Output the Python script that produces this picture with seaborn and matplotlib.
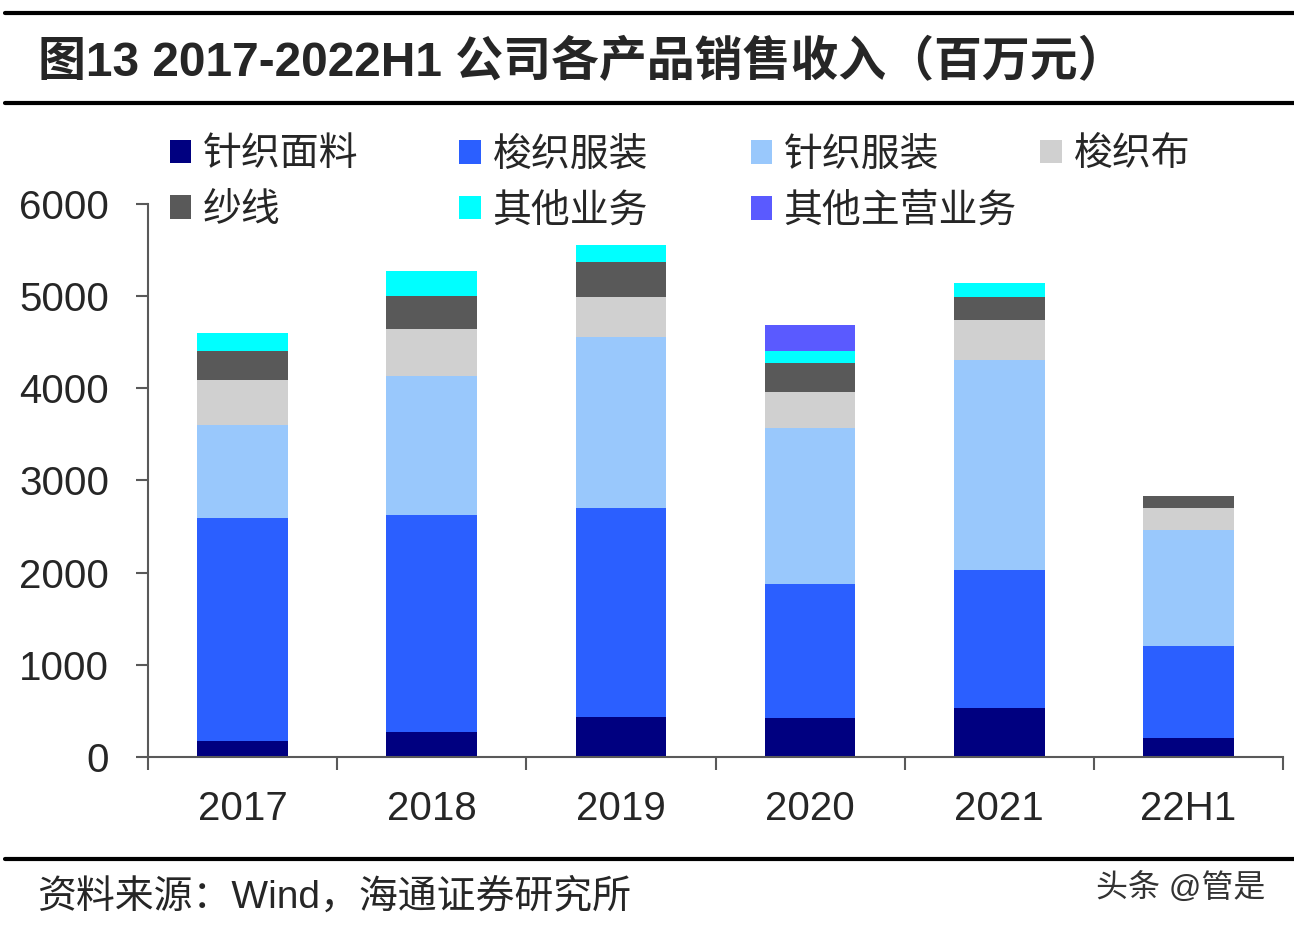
import pandas as pd
import matplotlib
matplotlib.use('Agg')
import matplotlib.pyplot as plt
import seaborn as sns
from matplotlib.patches import Patch
from matplotlib.lines import Line2D

# Data (百万元)
years = ['2017', '2018', '2019', '2020', '2021', '22H1']
series_names = ['针织面料', '梭织服装', '针织服装', '梭织布', '纱线', '其他业务', '其他主营业务']
knit_fabric = [170, 273, 431, 423, 536, 206]
woven_apparel = [2425, 2349, 2273, 1453, 1490, 996]
knit_apparel = [1005, 1513, 1850, 1693, 2281, 1262]
woven_cloth = [490, 505, 442, 394, 435, 240]
yarn = [310, 360, 375, 307, 247, 131]
other_business = [205, 273, 187, 134, 150, 0]
other_main = [0, 0, 0, 285, 0, 0]
y_ticks = [0, 1000, 2000, 3000, 4000, 5000, 6000]

colors = ['#000080', '#2B5FFF', '#99C8FC', '#D0D0D0', '#595959', '#00FFFF', '#5A5AFF']

sns.set_style('ticks')
plt.rcParams['font.family'] = ['Liberation Sans', 'Noto Sans CJK SC', 'DejaVu Sans']

df = pd.DataFrame(dict(zip(series_names, [knit_fabric, woven_apparel, knit_apparel,
                                          woven_cloth, yarn, other_business, other_main])),
                  index=years)
cum = df.cumsum(axis=1)

fig = plt.figure(figsize=(12.94, 9.34), dpi=100)
ax = fig.add_axes([0.1144, 0.1895, 0.8771, 0.5921])

# stacked bars: draw cumulative totals from the top segment down
for name, color in reversed(list(zip(series_names, colors))):
    sns.barplot(x=years, y=cum[name].values, color=color, width=0.48,
                saturation=1, linewidth=0, ax=ax)

ax.set_ylim(0, 6000)
ax.set_xlim(-0.5, len(years) - 0.5)
ax.set_yticks(y_ticks)
ax.set_yticklabels([str(t) for t in y_ticks], fontsize=29)
ax.set_xticks(range(len(years)))
ax.set_xticklabels(years, fontsize=29)
ax.set_xticks([i - 0.5 for i in range(len(years) + 1)], minor=True)
ax.tick_params(axis='x', which='major', length=0, pad=24)
ax.tick_params(axis='x', which='minor', length=9, width=1.5, color='#595959')
ax.tick_params(axis='y', length=9, width=1.5, color='#595959', pad=19)
ax.set_xlabel('')
ax.set_ylabel('')
for side in ['top', 'right']:
    ax.spines[side].set_visible(False)
for side in ['left', 'bottom']:
    ax.spines[side].set_color('#595959')
    ax.spines[side].set_linewidth(1.5)

# legend: four columns laid out in rows, like the reference
handles = [Patch(facecolor=c, edgecolor='none') for c in colors]
col_items = [[0, 4], [1, 5], [2, 6], [3]]
col_x = [0.131, 0.355, 0.580, 0.804]
for items, x in zip(col_items, col_x):
    fig.legend([handles[i] for i in items], [series_names[i] for i in items],
               loc='upper left', bbox_to_anchor=(x, 0.853), frameon=False,
               fontsize=28, handlelength=0.55, handleheight=0.55,
               handletextpad=0.3, labelspacing=0.5, borderpad=0, borderaxespad=0)

# title block and rules
fig.add_artist(Line2D([0.004, 1.0], [0.986, 0.986], color='black', lw=3))
fig.add_artist(Line2D([0.004, 1.0], [0.890, 0.890], color='black', lw=3))
fig.add_artist(Line2D([0.004, 1.0], [0.080, 0.080], color='black', lw=3))
fig.text(0.029, 0.933, '图13 2017-2022H1 公司各产品销售收入（百万元）',
         fontsize=34.5, fontweight='bold', va='center', ha='left')
fig.text(0.029, 0.040, '资料来源：Wind，海通证券研究所', fontsize=28,
         va='center', ha='left')
fig.text(0.978, 0.049, '头条 @管是', fontsize=23, color='#333333',
         va='center', ha='right')

fig.savefig('out.png', dpi=100, facecolor='white')
